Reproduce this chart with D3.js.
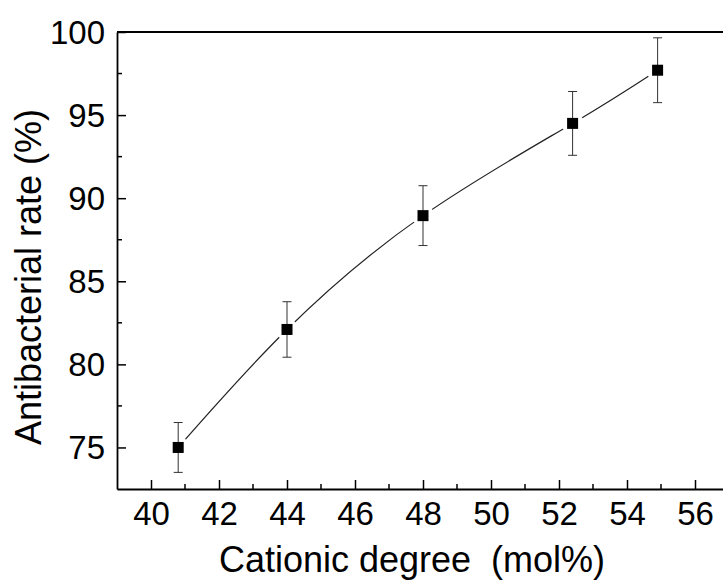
<!DOCTYPE html>
<html>
<head>
<meta charset="utf-8">
<script src="https://cdn.jsdelivr.net/npm/d3@7"></script>
<style>
  body { margin: 0; background: #fff; }
  svg { display: block; font-family: "Liberation Sans", Arial, sans-serif; }
</style>
</head>
<body>
<svg width="723" height="580"></svg>
<script>
// data
var cationic = [40.8, 44, 48, 52.4, 54.9];
var rate = [75.0, 82.1, 88.95, 94.5, 97.7];
var rateErr = [1.5, 1.67, 1.8, 1.92, 1.95];
var xMajor = [40, 42, 44, 46, 48, 50, 52, 54, 56];
var xMinor = [41, 43, 45, 47, 49, 51, 53, 55, 57];
var yMajor = [75, 80, 85, 90, 95, 100];
var yMinor = [77.5, 82.5, 87.5, 92.5, 97.5];

var svg = d3.select("svg");
var margin = { left: 117, top: 32, bottom: 91 };
var height = 580;

var x = d3.scaleLinear().domain([39, 57]).range([margin.left, margin.left + 18 * 34]);
var y = d3.scaleLinear().domain([72.5, 100]).range([height - margin.bottom, margin.top]);

var points = cationic.map(function (c, i) { return { x: c, y: rate[i], e: rateErr[i] }; });

// fitted curve
svg.append("path")
    .datum(points)
    .attr("fill", "none")
    .attr("stroke", "#222")
    .attr("stroke-width", 1.2)
    .attr("d", d3.line()
        .x(function (d) { return x(d.x); })
        .y(function (d) { return y(d.y); })
        .curve(d3.curveNatural));

// gaps round the symbols
svg.append("g").selectAll("circle")
    .data(points)
    .join("circle")
    .attr("cx", function (d) { return x(d.x); })
    .attr("cy", function (d) { return y(d.y); })
    .attr("r", 11)
    .attr("fill", "#fff");

// error bars
var eb = svg.append("g").attr("stroke", "#333").attr("stroke-width", 1);
eb.selectAll("line.v").data(points).join("line").attr("class", "v")
    .attr("x1", function (d) { return x(d.x); })
    .attr("x2", function (d) { return x(d.x); })
    .attr("y1", function (d) { return y(d.y - d.e); })
    .attr("y2", function (d) { return y(d.y + d.e); });
eb.selectAll("line.t").data(points).join("line").attr("class", "t")
    .attr("x1", function (d) { return x(d.x) - 4.5; })
    .attr("x2", function (d) { return x(d.x) + 4.5; })
    .attr("y1", function (d) { return y(d.y + d.e); })
    .attr("y2", function (d) { return y(d.y + d.e); });
eb.selectAll("line.b").data(points).join("line").attr("class", "b")
    .attr("x1", function (d) { return x(d.x) - 4.5; })
    .attr("x2", function (d) { return x(d.x) + 4.5; })
    .attr("y1", function (d) { return y(d.y - d.e); })
    .attr("y2", function (d) { return y(d.y - d.e); });

// square symbols
svg.append("g").selectAll("rect")
    .data(points)
    .join("rect")
    .attr("x", function (d) { return x(d.x) - 5.5; })
    .attr("y", function (d) { return y(d.y) - 5.5; })
    .attr("width", 11)
    .attr("height", 11)
    .attr("fill", "#000");

// axes (ticks pointing in)
var xAxis = svg.append("g")
    .attr("transform", "translate(0," + y.range()[0] + ")")
    .call(d3.axisBottom(x).tickValues(xMajor).tickSizeInner(-9).tickSizeOuter(0).tickPadding(13));
svg.append("g")
    .attr("transform", "translate(0," + y.range()[0] + ")")
    .selectAll("line").data(xMinor).join("line")
    .attr("x1", function (d) { return x(d); }).attr("x2", function (d) { return x(d); })
    .attr("y1", 0).attr("y2", -5)
    .attr("stroke", "#000").attr("stroke-width", 1.5);

var yAxis = svg.append("g")
    .attr("transform", "translate(" + x.range()[0] + ",0)")
    .call(d3.axisLeft(y).tickValues(yMajor).tickSizeInner(-9).tickSizeOuter(0).tickPadding(12));
svg.append("g")
    .attr("transform", "translate(" + x.range()[0] + ",0)")
    .selectAll("line").data(yMinor).join("line")
    .attr("y1", function (d) { return y(d); }).attr("y2", function (d) { return y(d); })
    .attr("x1", 0).attr("x2", 5)
    .attr("stroke", "#000").attr("stroke-width", 1.5);

[xAxis, yAxis].forEach(function (g) {
    g.select(".domain").attr("stroke", "#000").attr("stroke-width", 1.8);
    g.selectAll(".tick line").attr("stroke", "#000").attr("stroke-width", 1.5);
    g.selectAll(".tick text").attr("fill", "#000").attr("font-size", 33)
        .attr("font-family", "'Liberation Sans', Arial, sans-serif");
});
xAxis.selectAll(".tick text").attr("dy", "0.71em");
yAxis.selectAll(".tick text").attr("dy", "0.34em");

// top frame
svg.append("line")
    .attr("x1", x.range()[0]).attr("x2", x.range()[1])
    .attr("y1", y.range()[1]).attr("y2", y.range()[1])
    .attr("stroke", "#000").attr("stroke-width", 1.8);

// titles
svg.append("text")
    .attr("x", 412).attr("y", 572)
    .attr("text-anchor", "middle")
    .attr("font-size", 36)
    .attr("xml:space", "preserve")
    .style("white-space", "pre")
    .text("Cationic degree  (mol%)");

svg.append("text")
    .attr("transform", "translate(41,277) rotate(-90)")
    .attr("text-anchor", "middle")
    .attr("font-size", 36)
    .text("Antibacterial rate (%)");
</script>
</body>
</html>
